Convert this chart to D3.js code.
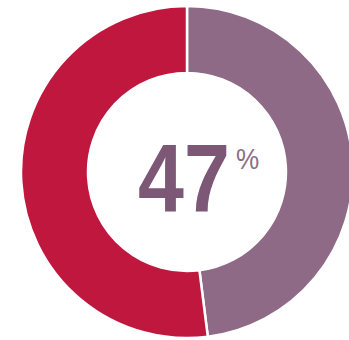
<!DOCTYPE html>
<html>
<head>
<meta charset="utf-8">
<script src="https://cdn.jsdelivr.net/npm/d3@7"></script>
<style>
  body { margin: 0; background: #fff; }
  svg { display: block; }
</style>
</head>
<body>
<svg id="chart" width="349" height="340"></svg>
<script>
// slices as drawn (clockwise from 12 o'clock)
const labels = ["share", "rest"];
const values = [48, 52];
const colors = ["#8f6a86", "#c0173e"];
const centerLabel = "47";

const svg = d3.select("#chart");
const width = 349, height = 340;
const cx = 187, cy = 172;
const outerR = 166, innerR = 99;

const g = svg.append("g").attr("transform", `translate(${cx},${cy})`);

const pie = d3.pie().sort(null).value(d => d);
const arc = d3.arc().innerRadius(innerR).outerRadius(outerR);

// donut slices with a thin white gap
g.selectAll("path")
  .data(pie(values))
  .join("path")
  .attr("d", arc)
  .attr("fill", (d, i) => colors[i])
  .attr("stroke", "#fff")
  .attr("stroke-width", 2.5);

// big number in the middle, squeezed horizontally to look condensed
g.append("text")
  .attr("transform", "translate(-3,40) scale(0.86,1)")
  .attr("text-anchor", "middle")
  .attr("font-family", "'Liberation Sans', Arial, sans-serif")
  .attr("font-weight", "bold")
  .attr("font-size", 96)
  .attr("fill", "#7c5876")
  .text(centerLabel);

g.append("text")
  .attr("transform", "translate(49,-3) scale(0.87,1)")
  .attr("font-family", "'Liberation Sans', Arial, sans-serif")
  .attr("font-size", 30)
  .attr("fill", "#8a6f86")
  .text("%");
</script>
</body>
</html>
